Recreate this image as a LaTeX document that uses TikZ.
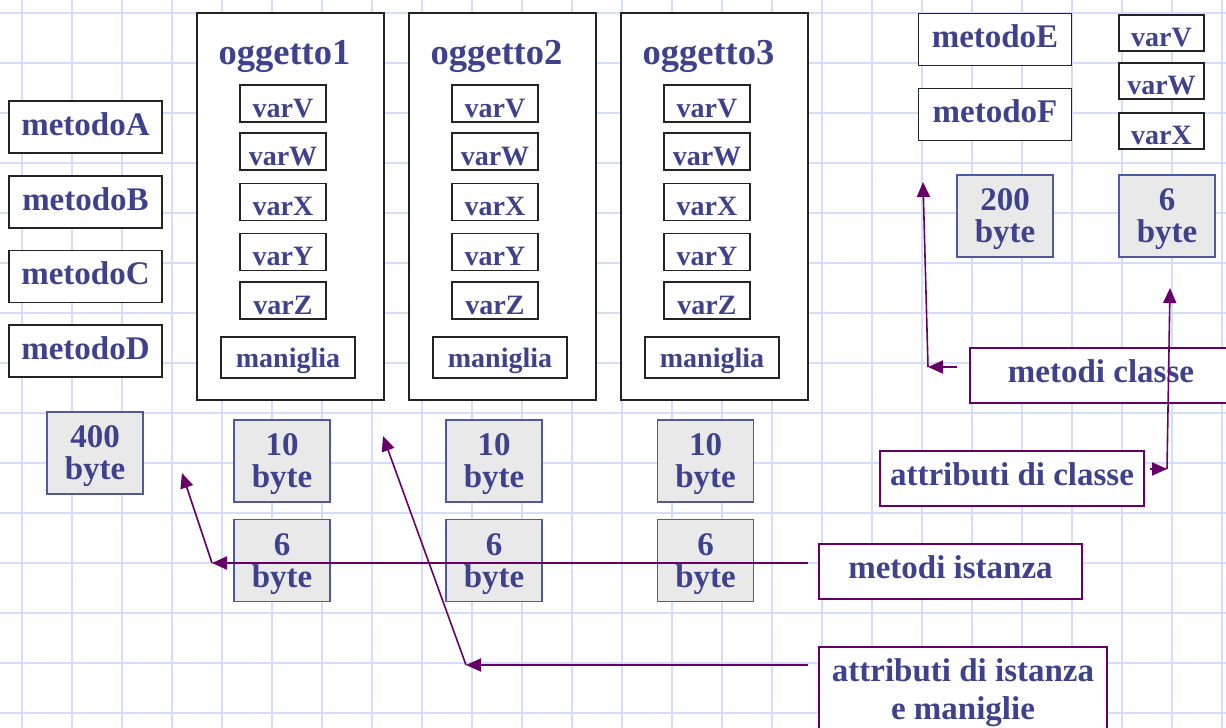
\documentclass[tikz,border=0pt]{standalone}
\usepackage{fontspec}
\setmainfont{Liberation Serif}
\usetikzlibrary{arrows.meta}
\definecolor{txt}{RGB}{62,66,140}
\definecolor{gridc}{RGB}{212,222,250}
\definecolor{purp}{RGB}{102,0,102}
\definecolor{bytefill}{RGB}{233,233,233}
\definecolor{bytedraw}{RGB}{82,88,160}
\definecolor{boxdraw}{RGB}{35,35,35}
\newcommand{\bytetxt}[1]{\rule{0pt}{29pt}#1\\byte}
\begin{document}
\begin{tikzpicture}[x=1pt,y=-1pt,
  every node/.style={text=txt, inner sep=0pt},
  gridline/.style={draw=gridc, line width=2pt},
  objbox/.style={draw=boxdraw, line width=1.6pt, fill=white, minimum width=187pt, minimum height=387pt},
  objtitle/.style={font=\fontsize{36.5}{40}\selectfont\bfseries, anchor=base},
  varbox/.style={draw=boxdraw, line width=1.6pt, fill=white, minimum width=86pt, minimum height=37pt, font=\fontsize{28}{30}\selectfont\bfseries, text height=27pt, text depth=0pt},
  manbox/.style={draw=boxdraw, line width=1.6pt, fill=white, minimum width=134pt, minimum height=41pt, font=\fontsize{28}{30}\selectfont\bfseries, text height=19pt, text depth=0pt},
  metbox/.style={draw=boxdraw, line width=1.6pt, fill=white, minimum width=153pt, minimum height=52pt, font=\fontsize{33}{36}\selectfont\bfseries, text height=16pt, text depth=0pt},
  cvarbox/.style={draw=boxdraw, line width=1.6pt, fill=white, minimum width=85pt, minimum height=36pt, font=\fontsize{28}{30}\selectfont\bfseries, text height=26pt, text depth=0pt},
  bytebox/.style={draw=bytedraw, line width=1.4pt, fill=bytefill, minimum width=96pt, minimum height=82pt, font=\fontsize{33}{32}\selectfont\bfseries, align=center},
  lblbox/.style={draw=purp, line width=2pt, fill=white, minimum height=55pt, font=\fontsize{33}{38}\selectfont\bfseries, text height=13pt, text depth=0pt},
  arr/.style={draw=purp, line width=2pt, -{Triangle[length=15pt,width=13pt]}}
]
\useasboundingbox (0,0) rectangle (1226,728);
\fill[white] (0,0) rectangle (1226,728);
\foreach \i in {0,...,24} \draw[gridline] ({22+50*\i},0) -- ({22+50*\i},728);
\foreach \j in {0,...,14} \draw[gridline] (0,{13+50*\j}) -- (1226,{13+50*\j});

% objects
\foreach \k/\cx in {1/290.5,2/502.5,3/714.5}{
  \node[objbox] (obj\k) at (\cx,206.5) {};
  \node[objtitle] (tit\k) at (\cx-6,64) {oggetto\k};
  \node[varbox] (v\k) at (\cx-7.5,103.5) {varV};
  \node[varbox] (w\k) at (\cx-7.5,151.5) {varW};
  \node[varbox] (x\k) at (\cx-7.5,202) {varX};
  \node[varbox] (y\k) at (\cx-7.5,252) {varY};
  \node[varbox] (z\k) at (\cx-7.5,300.5) {varZ};
  \node[manbox] (m\k) at (\cx-2.5,357.5) {maniglia};
}

% instance methods
\node[metbox] (mA) at (85.5,127) {metodoA};
\node[metbox] (mB) at (85.5,202) {metodoB};
\node[metbox] (mC) at (85.5,276.5) {metodoC};
\node[metbox] (mD) at (85.5,351) {metodoD};

% class methods and vars
\node[metbox] (mE) at (995,39.5) {metodoE};
\node[metbox] (mF) at (995,114.5) {metodoF};
\node[cvarbox] (cV) at (1161.5,33) {varV};
\node[cvarbox] (cW) at (1161.5,81) {varW};
\node[cvarbox] (cX) at (1161.5,131) {varX};

% byte boxes
\node[bytebox] (b400) at (95,453) {\bytetxt{400}};
\node[bytebox] (b10a) at (282,461) {\bytetxt{10}};
\node[bytebox] (b10b) at (494,461) {\bytetxt{10}};
\node[bytebox] (b10c) at (705.5,461) {\bytetxt{10}};
\node[bytebox] (b6a) at (282,560.5) {\bytetxt{6}};
\node[bytebox] (b6b) at (494,560.5) {\bytetxt{6}};
\node[bytebox] (b6c) at (705.5,560.5) {\bytetxt{6}};
\node[bytebox] (b200) at (1005,216) {\bytetxt{200}};
\node[bytebox] (b6d) at (1167,216) {\bytetxt{6}};

% label boxes
\node[lblbox, minimum width=262pt] (mc) at (1101,375.5) {metodi classe};
\node[lblbox, minimum width=264pt] (ac) at (1012,478.5) {attributi di classe};
\node[lblbox, minimum width=263pt] (mi) at (950.5,571.5) {metodi istanza};
\node[draw=purp, line width=2pt, fill=white, minimum width=288pt, minimum height=92pt, font=\fontsize{33}{38}\selectfont\bfseries, align=center] (ai) at (963,693) {attributi di istanza\\e maniglie};

% connectors
\coordinate (miS) at (808,563);
\coordinate (miC) at (212,563);
\coordinate (miT) at (182,473);
\coordinate (aiS) at (808,665);
\coordinate (aiC) at (466,665);
\coordinate (aiT) at (383,436);
\coordinate (mcS) at (957,367);
\coordinate (mcC) at (928,367);
\coordinate (mcT) at (923,182);
\coordinate (acS) at (1150,469);
\coordinate (acC) at (1167,469);
\coordinate (acT) at (1170,288);

\draw[arr] (miS) -- (miC);
\draw[arr, line width=1.6pt] (miC) -- (miT);
\draw[arr] (aiS) -- (aiC);
\draw[arr, line width=1.6pt] (aiC) -- (aiT);
\draw[arr] (mcS) -- (mcC);
\draw[arr, line width=1.6pt] (mcC) -- (mcT);
\draw[arr] (acS) -- (acC);
\draw[arr, line width=1.6pt] (acC) -- (acT);
\end{tikzpicture}
\end{document}
